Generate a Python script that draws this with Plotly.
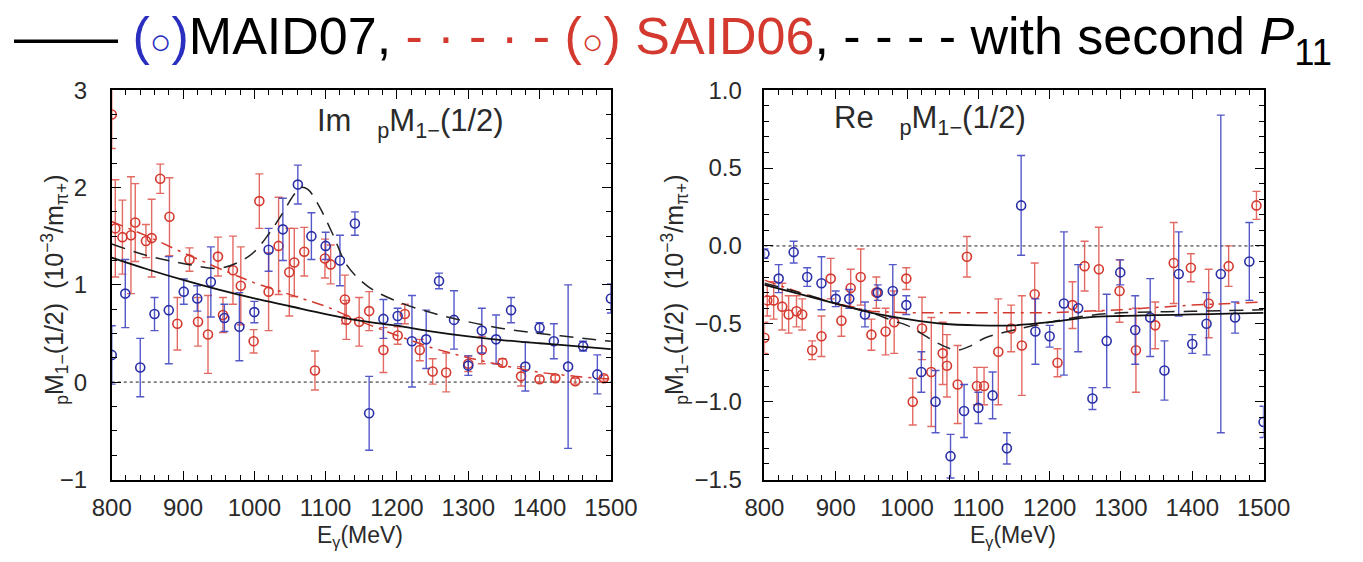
import plotly.graph_objects as go

# ---------------- data: left panel (Im pM1-(1/2)) ----------------
im_maid_E = [800, 819, 840, 860, 880, 901, 920, 939, 958, 979, 1000, 1020, 1040, 1061, 1080, 1100,
             1120, 1141, 1161, 1181, 1201, 1221, 1241, 1259, 1280, 1300, 1319, 1339, 1360, 1380,
             1400, 1420, 1440, 1461, 1481, 1500]
im_maid_v = [0.28, 0.91, 0.15, 0.70, 0.74, 0.93, 0.86, 1.03, 0.66, 0.57, 0.72, 1.36, 1.57, 2.03, 1.50, 1.40,
             1.25, 1.63, -0.32, 0.65, 0.68, 0.42, 0.44, 1.04, 0.64, 0.17, 0.53, 0.44, 0.74, 0.16,
             0.56, 0.42, 0.16, 0.37, 0.08, 0.86]
im_maid_err = [0.30, 0.35, 0.30, 0.17, 0.55, 0.13, 0.13, 0.36, 0.14, 0.35, 0.11, 0.22, 0.32, 0.20, 0.24, 0.14,
               0.26, 0.12, 0.38, 0.20, 0.08, 0.47, 0.30, 0.08, 0.30, 0.10, 0.23, 0.25, 0.13, 0.25,
               0.05, 0.18, 0.84, 0.05, 0.20, 0.15]

im_said_E = [800, 805, 815, 827, 833, 848, 856, 868, 881, 892, 909, 921, 935, 949, 956, 970, 981, 999,
             1007, 1020, 1034, 1049, 1056, 1070, 1085, 1099, 1107, 1127, 1129, 1147, 1161, 1181, 1201,
             1211, 1232, 1250, 1269, 1300, 1319, 1348, 1374, 1400, 1422, 1450, 1490]
im_said_v = [2.75, 1.58, 1.49, 1.51, 1.64, 1.45, 1.48, 2.09, 1.70, 0.60, 1.26, 0.62, 0.49, 1.29, 0.69, 1.15, 0.99, 0.42,
             1.86, 0.93, 1.40, 1.13, 1.23, 1.34, 0.12, 1.27, 1.21, 0.85, 0.64, 0.62, 0.73, 0.33, 0.48,
             0.70, 0.33, 0.11, 0.10, 0.19, 0.33, 0.20, 0.06, 0.03, 0.04, 0.01, 0.04]
im_said_err = [0.35, 0.50, 0.38, 0.60, 0.40, 0.17, 0.40, 0.15, 0.40, 0.27, 0.12, 0.25, 0.40, 0.20, 0.18, 0.35, 0.40, 0.12,
               0.28, 0.40, 0.50, 0.45, 0.35, 0.25, 0.20, 0.20, 0.20, 0.25, 0.20, 0.25, 0.20, 0.23, 0.09,
               0.10, 0.11, 0.13, 0.20, 0.08, 0.14, 0.04, 0.10, 0.03, 0.03, 0.03, 0.03]

im_maid_curve_E = [800, 850, 900, 950, 1000, 1050, 1100, 1150, 1200, 1250, 1300, 1350, 1400, 1450, 1500]
im_maid_curve_v = [1.28, 1.16, 1.05, 0.95, 0.86, 0.78, 0.70, 0.63, 0.58, 0.52, 0.47, 0.43, 0.40, 0.37, 0.34]

im_p11_curve_E = [800, 850, 900, 950, 980, 1000, 1020, 1040, 1055, 1065, 1075, 1090, 1110, 1130, 1160, 1200,
                  1250, 1300, 1350, 1400, 1450, 1500]
im_p11_curve_v = [1.42, 1.30, 1.22, 1.17, 1.24, 1.34, 1.52, 1.74, 1.92, 2.00, 1.98, 1.82, 1.52, 1.20, 0.98, 0.83,
                  0.71, 0.62, 0.55, 0.50, 0.46, 0.42]

im_said_curve_E = [800, 850, 900, 950, 1000, 1050, 1100, 1150, 1200, 1250, 1300, 1350, 1400, 1450, 1500]
im_said_curve_v = [1.65, 1.50, 1.33, 1.17, 1.02, 0.90, 0.78, 0.62, 0.48, 0.35, 0.25, 0.17, 0.10, 0.06, 0.03]

# ---------------- data: right panel (Re pM1-(1/2)) ----------------
re_maid_E = [800, 820, 841, 860, 880, 900, 919, 941, 959, 980, 999, 1020, 1040, 1061, 1080, 1100, 1120,
             1140, 1160, 1180, 1200, 1220, 1240, 1260, 1280, 1299, 1320, 1341, 1361, 1381, 1400, 1420,
             1440, 1460, 1480, 1500]
re_maid_v = [-0.05, -0.21, -0.04, -0.20, -0.24, -0.34, -0.34, -0.44, -0.30, -0.29, -0.38, -0.81, -1.00, -1.35,
             -1.06, -1.04, -0.96, -1.30, 0.26, -0.55, -0.58, -0.37, -0.40, -0.98, -0.61, -0.17, -0.54, -0.46,
             -0.80, -0.18, -0.63, -0.50, -0.18, -0.46, -0.10, -1.13]
re_maid_err = [0.03, 0.09, 0.07, 0.06, 0.17, 0.05, 0.06, 0.08, 0.05, 0.17, 0.06, 0.13, 0.20, 0.14,
               0.17, 0.10, 0.15, 0.10, 0.32, 0.21, 0.07, 0.46, 0.28, 0.07, 0.30, 0.08, 0.22, 0.25,
               0.19, 0.27, 0.06, 0.20, 1.02, 0.10, 0.25, 0.10]

re_said_E = [800, 804, 813, 825, 834, 845, 853, 867, 880, 893, 908, 921, 935, 950, 957, 970, 982, 999,
             1008, 1021, 1034, 1050, 1056, 1071, 1084, 1098, 1108, 1128, 1146, 1161, 1179, 1211, 1232,
             1249, 1269, 1298, 1321, 1348, 1374, 1398, 1423, 1451, 1490]
re_said_v = [-0.59, -0.35, -0.35, -0.39, -0.44, -0.42, -0.44, -0.67, -0.58, -0.21, -0.48, -0.27, -0.20, -0.57,
             -0.30, -0.55, -0.49, -0.21, -1.00, -0.53, -0.81, -0.69, -0.77, -0.89, -0.07, -0.90, -0.90,
             -0.68, -0.53, -0.64, -0.31, -0.75, -0.38, -0.13, -0.15, -0.29, -0.67, -0.51, -0.11, -0.14,
             -0.37, -0.13, 0.26]
re_said_err = [0.10, 0.10, 0.12, 0.15, 0.12, 0.10, 0.10, 0.06, 0.13, 0.13, 0.10, 0.12, 0.18, 0.10,
               0.10, 0.15, 0.20, 0.07, 0.15, 0.20, 0.35, 0.20, 0.20, 0.25, 0.13, 0.12, 0.12,
               0.34, 0.15, 0.32, 0.20, 0.09, 0.15, 0.16, 0.27, 0.20, 0.27, 0.15, 0.26, 0.09,
               0.22, 0.13, 0.09]

re_maid_curve_E = [800, 850, 900, 950, 1000, 1050, 1100, 1150, 1200, 1250, 1300, 1350, 1400, 1450, 1500]
re_maid_curve_v = [-0.25, -0.31, -0.37, -0.43, -0.47, -0.50, -0.51, -0.51, -0.49, -0.46, -0.45, -0.445,
                   -0.44, -0.435, -0.43]

re_p11_curve_E = [800, 850, 900, 950, 980, 1000, 1030, 1050, 1070, 1090, 1110, 1150, 1200, 1250, 1300,
                  1400, 1500]
re_p11_curve_v = [-0.24, -0.30, -0.37, -0.43, -0.48, -0.51, -0.59, -0.64, -0.67, -0.64, -0.59, -0.54,
                  -0.49, -0.45, -0.43, -0.42, -0.41]

re_said_curve_E = [800, 850, 900, 950, 1000, 1100, 1200, 1300, 1400, 1500]
re_said_curve_v = [-0.22, -0.30, -0.37, -0.42, -0.43, -0.43, -0.43, -0.41, -0.38, -0.36]

# ---------------- styling ----------------
BLUE = "#2a2fa6"
BLUE_BAR = "rgba(55,60,190,0.85)"
RED = "#d4392f"
RED_BAR = "rgba(222,80,70,0.85)"
FONT = "Liberation Sans, Arial, sans-serif"
W, H = 1363, 562

fig = go.Figure()


def add_panel(xa, ya, maid, said, curves):
    fig.add_trace(go.Scatter(x=[800, 1500], y=[0, 0], mode="lines", xaxis=xa, yaxis=ya,
                             line=dict(color="rgba(110,110,110,0.9)", width=1.6, dash="dot"),
                             showlegend=False, hoverinfo="skip"))
    for (E, v, e), mc, bc in [(said, RED, RED_BAR), (maid, BLUE, BLUE_BAR)]:
        fig.add_trace(go.Scatter(x=E, y=v, mode="markers", xaxis=xa, yaxis=ya,
                                 marker=dict(symbol="circle-open", size=9, color=mc, line=dict(width=1.6)),
                                 error_y=dict(type="data", array=e, color=bc, thickness=1.4, width=4),
                                 showlegend=False))
    (mE, mv), (pE, pv), (sE, sv) = curves
    fig.add_trace(go.Scatter(x=sE, y=sv, mode="lines", xaxis=xa, yaxis=ya,
                             line=dict(color=RED, width=1.5, dash="12px,6px,3px,6px"), showlegend=False))
    fig.add_trace(go.Scatter(x=pE, y=pv, mode="lines", xaxis=xa, yaxis=ya, line_shape="spline",
                             line=dict(color="#222", width=1.5, dash="14px,9px"), showlegend=False))
    fig.add_trace(go.Scatter(x=mE, y=mv, mode="lines", xaxis=xa, yaxis=ya, line_shape="spline",
                             line=dict(color="#111", width=1.8), showlegend=False))


add_panel("x", "y", (im_maid_E, im_maid_v, im_maid_err), (im_said_E, im_said_v, im_said_err),
          ((im_maid_curve_E, im_maid_curve_v), (im_p11_curve_E, im_p11_curve_v),
           (im_said_curve_E, im_said_curve_v)))
add_panel("x2", "y2", (re_maid_E, re_maid_v, re_maid_err), (re_said_E, re_said_v, re_said_err),
          ((re_maid_curve_E, re_maid_curve_v), (re_p11_curve_E, re_p11_curve_v),
           (re_said_curve_E, re_said_curve_v)))

axis_common = dict(showline=True, linecolor="black", linewidth=1.6, mirror="ticks", ticks="inside",
                   ticklen=9, tickwidth=1.3, tickcolor="black", showgrid=False, zeroline=False,
                   tickfont=dict(family=FONT, size=24, color="#2a2a2a"))

xticks = dict(tickmode="array", tickvals=[800, 900, 1000, 1100, 1200, 1300, 1400, 1500],
              minor=dict(ticks="inside", ticklen=5, tickwidth=1.1, tickcolor="black", dtick=20, showgrid=False),
              ticklabelstandoff=6)

fig.update_layout(
    width=W, height=H, margin=dict(l=0, r=0, t=0, b=0),
    plot_bgcolor="white", paper_bgcolor="white",
    xaxis=dict(domain=[95 / W, 612 / W], range=[800, 1500], anchor="y", **axis_common, **xticks),
    yaxis=dict(domain=[1 - 489 / H, 1 - 80 / H], range=[-1, 3], anchor="x", tickvals=[-1, 0, 1, 2, 3],
               minor=dict(ticks="inside", ticklen=5, tickwidth=1.1, tickcolor="black", dtick=0.25, showgrid=False),
               ticklabelstandoff=18, **axis_common),
    xaxis2=dict(domain=[771 / W, 1288 / W], range=[800, 1500], anchor="y2", **axis_common, **xticks),
    yaxis2=dict(domain=[1 - 489 / H, 1 - 80 / H], range=[-1.5, 1.0], anchor="x2",
                tickvals=[-1.5, -1.0, -0.5, 0.0, 0.5, 1.0], tickformat=".1f",
                minor=dict(ticks="inside", ticklen=5, tickwidth=1.1, tickcolor="black", dtick=0.1, showgrid=False),
                ticklabelstandoff=16, **axis_common),
)


def px(x):
    return x / W


def py(y):
    return 1 - y / H


ann_font = dict(family=FONT, size=25, color="#2a2a2a")
ytitle = "<sub>p</sub>M<sub>1\u2212</sub>(1/2)  (10<sup>\u22123</sup>/m<sub>\u03c0+</sub>)"
xtitle = "E<sub>\u03b3</sub>(MeV)"
lab_font = dict(family=FONT, size=31, color="#2a2a2a")
xt_font = dict(family=FONT, size=23, color="#2a2a2a")
anns = [
    dict(x=px(36), y=py(290), text=ytitle, textangle=-90),
    dict(x=px(678), y=py(290), text=ytitle, textangle=-90),
    dict(x=px(352), y=py(549), text=xtitle, font=xt_font),
    dict(x=px(1028), y=py(549), text=xtitle, font=xt_font),
    dict(x=px(404), y=py(115), text="Im   <sub>p</sub>M<sub>1\u2212</sub>(1/2)", font=lab_font),
    dict(x=px(942), y=py(111), text="Re   <sub>p</sub>M<sub>1\u2212</sub>(1/2)", font=lab_font),
]
for a in anns:
    fig.add_annotation(xref="paper", yref="paper", showarrow=False, xanchor="center", yanchor="middle",
                       font=a.pop("font", ann_font), **a)

legend_text = ("<span style='color:black'>\u2014\u2014</span> "
               "<span style='color:#2a2fc0'>(<span style='font-size:36px'>\u25cb</span>)</span>MAID07, "
               "<span style='color:#d4392f'>- \u00b7 - \u00b7 - (<span style='font-size:36px'>\u25cb</span>) SAID06</span>, "
               "- - - - with second <i>P</i><sub>11</sub>")
fig.add_annotation(xref="paper", yref="paper", x=0, y=py(27), xanchor="left", yanchor="middle", xshift=-8,
                   showarrow=False, text=legend_text, font=dict(family=FONT, size=52, color="black"))

fig.write_html("out.html")
